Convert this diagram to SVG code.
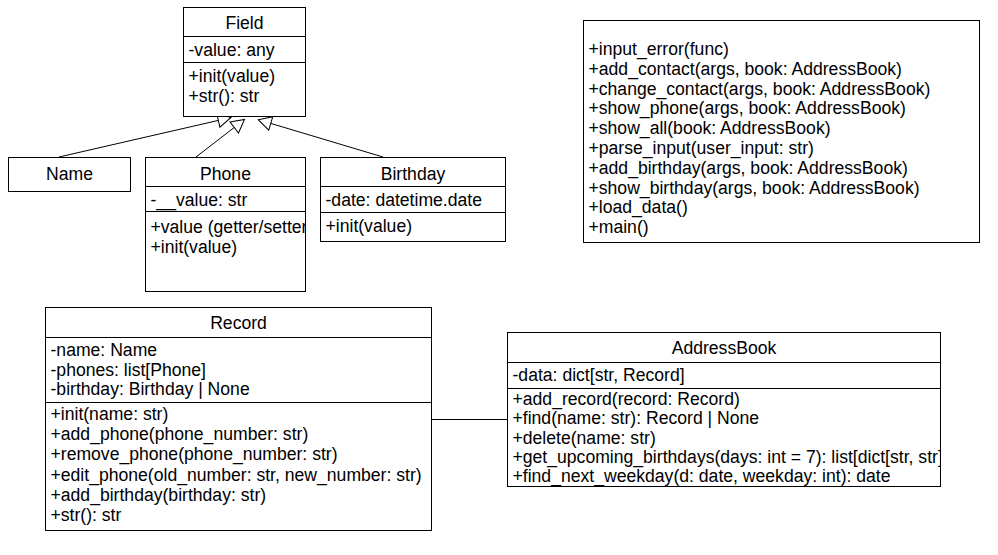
<svg xmlns="http://www.w3.org/2000/svg" width="998" height="555" viewBox="0 0 998 555">
<style>
.box{fill:#fff;stroke:#000;stroke-width:1}
.div{stroke:#000;stroke-width:1;fill:none}
text{font-family:"Liberation Sans",Arial,sans-serif;font-size:17.6px;fill:#000}
.t{text-anchor:middle}
.edge{stroke:#000;stroke-width:1;fill:none}
</style>
<defs>
<marker id="gen" markerUnits="userSpaceOnUse" markerWidth="16" markerHeight="16" viewBox="-1 -1 16 16" refX="13" refY="7" orient="auto">
<path d="M0,0 L13,7 L0,14 Z" fill="#fff" stroke="#000" stroke-width="1"/>
</marker>
<clipPath id="clipPhone"><rect x="145" y="211" width="160.5" height="80"/></clipPath>
<clipPath id="clipAB"><rect x="507" y="388" width="433.5" height="110"/></clipPath>
</defs>

<g id="connectors">
<line class="edge" x1="59" y1="157" x2="231" y2="117.5" marker-end="url(#gen)"/>
<line class="edge" x1="196" y1="157" x2="244.5" y2="119.5" marker-end="url(#gen)"/>
<line class="edge" x1="383" y1="157" x2="258.3" y2="119.7" marker-end="url(#gen)"/>
<line class="edge" x1="431.5" y1="419.5" x2="507.5" y2="419.5"/>
</g>

<g id="field">
<rect class="box" x="183.5" y="7.5" width="122" height="109"/>
<line class="div" x1="183.5" y1="36.5" x2="305.5" y2="36.5"/>
<line class="div" x1="183.5" y1="62.5" x2="305.5" y2="62.5"/>
<text class="t" x="244.5" y="29">Field</text>
<text x="188.5" y="56">-value: any</text>
<text x="188.5" y="82">+init(value)</text>
<text x="188.5" y="102">+str(): str</text>
</g>

<g id="name">
<rect class="box" x="8.5" y="157.5" width="122" height="34"/>
<text class="t" x="69.5" y="179.5">Name</text>
</g>

<g id="phone">
<rect class="box" x="145.5" y="157.5" width="160" height="134"/>
<line class="div" x1="145.5" y1="186.5" x2="305.5" y2="186.5"/>
<line class="div" x1="145.5" y1="211.5" x2="305.5" y2="211.5"/>
<text class="t" x="225.5" y="179.5">Phone</text>
<text x="150.5" y="206">-__value: str</text>
<g clip-path="url(#clipPhone)">
<text x="150.5" y="232.5">+value (getter/setter)</text>
<text x="150.5" y="252.5">+init(value)</text>
</g>
</g>

<g id="birthday">
<rect class="box" x="320.5" y="157.5" width="185" height="84"/>
<line class="div" x1="320.5" y1="186.5" x2="505.5" y2="186.5"/>
<line class="div" x1="320.5" y1="212.5" x2="505.5" y2="212.5"/>
<text class="t" x="413" y="179.5">Birthday</text>
<text x="325.5" y="206">-date: datetime.date</text>
<text x="325.5" y="231.5">+init(value)</text>
</g>

<g id="functions">
<rect class="box" x="583.5" y="20.5" width="396" height="222"/>
<text x="588.5" y="55">+input_error(func)</text>
<text x="588.5" y="74.8">+add_contact(args, book: AddressBook)</text>
<text x="588.5" y="94.6">+change_contact(args, book: AddressBook)</text>
<text x="588.5" y="114.4">+show_phone(args, book: AddressBook)</text>
<text x="588.5" y="134.2">+show_all(book: AddressBook)</text>
<text x="588.5" y="154">+parse_input(user_input: str)</text>
<text x="588.5" y="173.8">+add_birthday(args, book: AddressBook)</text>
<text x="588.5" y="193.6">+show_birthday(args, book: AddressBook)</text>
<text x="588.5" y="213.4">+load_data()</text>
<text x="588.5" y="233.2">+main()</text>
</g>

<g id="record">
<rect class="box" x="45.5" y="307.5" width="386" height="223"/>
<line class="div" x1="45.5" y1="337.5" x2="431.5" y2="337.5"/>
<line class="div" x1="45.5" y1="402.5" x2="431.5" y2="402.5"/>
<text class="t" x="238.5" y="329">Record</text>
<text x="50.5" y="355.5">-name: Name</text>
<text x="50.5" y="375.5">-phones: list[Phone]</text>
<text x="50.5" y="395">-birthday: Birthday | None</text>
<text x="50.5" y="420">+init(name: str)</text>
<text x="50.5" y="440.2">+add_phone(phone_number: str)</text>
<text x="50.5" y="460.4">+remove_phone(phone_number: str)</text>
<text x="50.5" y="480.6">+edit_phone(old_number: str, new_number: str)</text>
<text x="50.5" y="500.8">+add_birthday(birthday: str)</text>
<text x="50.5" y="521">+str(): str</text>
</g>

<g id="addressbook">
<rect class="box" x="507.5" y="332.5" width="433" height="154"/>
<line class="div" x1="507.5" y1="362.5" x2="940.5" y2="362.5"/>
<line class="div" x1="507.5" y1="388.5" x2="940.5" y2="388.5"/>
<text class="t" x="724" y="354">AddressBook</text>
<text x="512.5" y="381">-data: dict[str, Record]</text>
<g clip-path="url(#clipAB)">
<text x="512.5" y="404.5">+add_record(record: Record)</text>
<text x="512.5" y="424">+find(name: str): Record | None</text>
<text x="512.5" y="443.5">+delete(name: str)</text>
<text x="512.5" y="463">+get_upcoming_birthdays(days: int = 7): list[dict[str, str]]</text>
<text x="512.5" y="482">+find_next_weekday(d: date, weekday: int): date</text>
</g>
</g>
</svg>
